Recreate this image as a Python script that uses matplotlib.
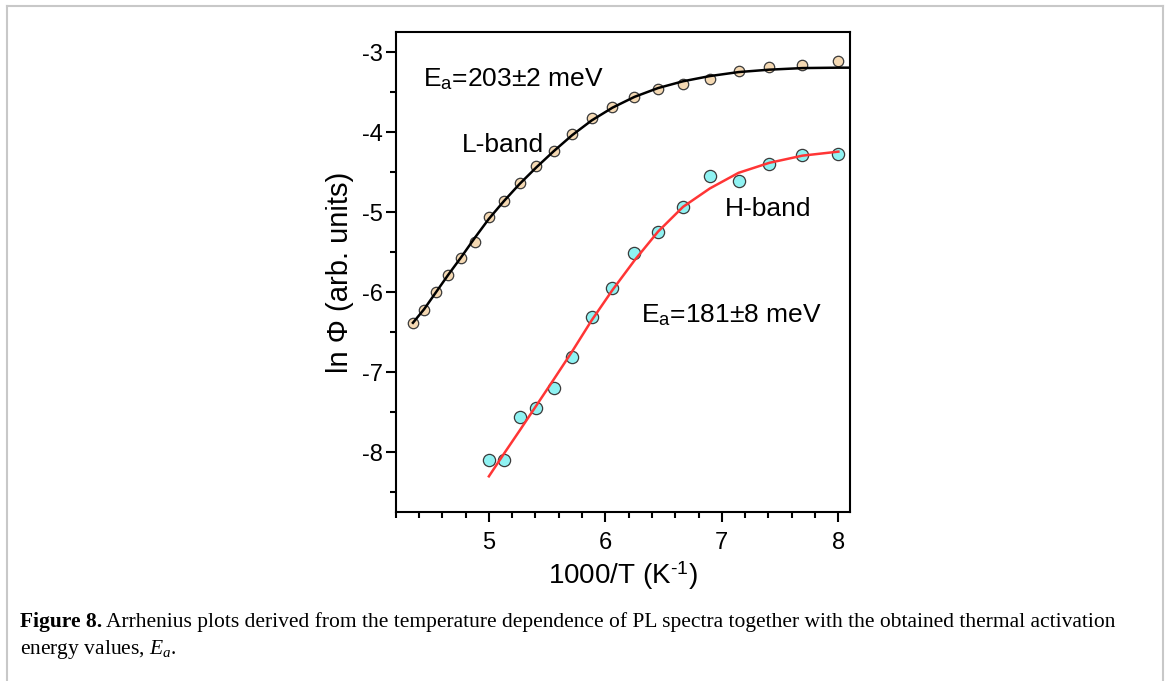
import matplotlib
matplotlib.use('Agg')
import matplotlib.pyplot as plt
from matplotlib.lines import Line2D
from matplotlib.ticker import MultipleLocator

# 1000/T values (K^-1)
x_l = [4.348, 4.444, 4.545, 4.651, 4.762, 4.878, 5.0, 5.128, 5.263, 5.405, 5.556,
       5.714, 5.882, 6.061, 6.25, 6.452, 6.667, 6.897, 7.143, 7.407, 7.692, 8.0]
y_l = [-6.38, -6.22, -6.0, -5.78, -5.57, -5.37, -5.06, -4.86, -4.63, -4.425, -4.23,
       -4.025, -3.825, -3.68, -3.56, -3.46, -3.40, -3.33, -3.23, -3.18, -3.155, -3.11]

x_h = [5.0, 5.128, 5.263, 5.405, 5.556, 5.714, 5.882, 6.061, 6.25, 6.452, 6.667,
       6.897, 7.143, 7.407, 7.692, 8.0]
y_h = [-8.09, -8.10, -7.555, -7.44, -7.20, -6.805, -6.31, -5.945, -5.505, -5.25, -4.93,
       -4.545, -4.61, -4.39, -4.28, -4.265]

# fit curves
fit_lx = x_l + [8.1]
fit_ly = [-6.38, -6.21, -6.0, -5.78, -5.56, -5.32, -5.08, -4.86, -4.645, -4.44, -4.235,
          -4.035, -3.85, -3.69, -3.555, -3.445, -3.36, -3.295, -3.245, -3.215, -3.195,
          -3.19, -3.19]
fit_hx = x_h
fit_hy = [-8.30, -8.02, -7.73, -7.42, -7.09, -6.74, -6.35, -5.97, -5.60, -5.24, -4.93,
          -4.70, -4.505, -4.38, -4.29, -4.24]

plt.rcParams['axes.unicode_minus'] = False
plt.rcParams['font.family'] = ['Liberation Sans', 'DejaVu Sans']
plt.rcParams['mathtext.fontset'] = 'custom'
plt.rcParams['mathtext.rm'] = 'Liberation Sans'
plt.rcParams['mathtext.it'] = 'Liberation Serif:italic'

fig = plt.figure(figsize=(11.7, 6.81), dpi=100)
fig.set_facecolor('white')
ax = fig.add_axes([0.3382, 0.2477, 0.3883, 0.7046])

ax.plot(x_l, y_l, 'o', ms=7.5, mfc='#f5d9b3', mec='#3a3a3a', mew=0.9, zorder=2)
ax.plot(fit_lx, fit_ly, '-', color='black', lw=1.8, zorder=3)
ax.plot(x_h, y_h, 'o', ms=8.8, mfc='#8ff2f2', mec='#3a3a3a', mew=0.9, zorder=2)
ax.plot(fit_hx, fit_hy, '-', color='#ff3535', lw=1.8, zorder=3)

ax.set_xlim(4.2, 8.1)
ax.set_ylim(-8.75, -2.75)
ax.xaxis.set_major_locator(MultipleLocator(1))
ax.xaxis.set_minor_locator(MultipleLocator(0.2))
ax.yaxis.set_major_locator(MultipleLocator(1))
ax.yaxis.set_minor_locator(MultipleLocator(0.5))
for s in ax.spines.values():
    s.set_linewidth(1.5)
ax.tick_params(which='major', length=7, width=1.5, labelsize=17)
ax.tick_params(which='minor', length=4.5, width=1.5)
ax.tick_params(axis='x', which='major', pad=7)
ax.tick_params(axis='y', which='major', pad=2)

ax.set_xlabel('1000/T (K$^{\\text{-}\\mathregular{1}}$)', fontsize=20, labelpad=4)
ax.set_ylabel('ln \u03a6 (arb. units)', fontsize=21, labelpad=6)

ax.text(4.432, -3.42, 'E$_{\\mathregular{a}}$=203\u00b12 meV', fontsize=19, va='baseline')
ax.text(4.765, -4.24, 'L-band', fontsize=19, va='baseline')
ax.text(7.03, -5.046, 'H-band', fontsize=19, va='baseline')
ax.text(6.305, -6.37, 'E$_{\\mathregular{a}}$=181\u00b18 meV', fontsize=19, va='baseline')

# page frame
W, H = 1170, 681
c = '#c8c8c8'
fig.add_artist(Line2D([7 / W, 7 / W], [0, 1 - 5.5 / H], transform=fig.transFigure, color=c, lw=1.5))
fig.add_artist(Line2D([7 / W, 1163 / W], [1 - 5.5 / H, 1 - 5.5 / H], transform=fig.transFigure, color=c, lw=1.5))
fig.add_artist(Line2D([1163 / W, 1163 / W], [0, 1 - 5.5 / H], transform=fig.transFigure, color=c, lw=1.5))

# caption
cap_fs = 15.5
t1 = fig.text(20 / W, 1 - 627 / H, 'Figure 8.', fontsize=cap_fs, fontweight='bold',
              family='Liberation Serif', va='baseline')
fig.canvas.draw()
bb = t1.get_window_extent()
fig.text((bb.x1 + 4) / W, 1 - 627 / H,
         'Arrhenius plots derived from the temperature dependence of PL spectra together '
         'with the obtained thermal activation',
         fontsize=cap_fs, family='Liberation Serif', va='baseline')
fig.text(20 / W, 1 - 654 / H, 'energy values, $E_a$.', fontsize=cap_fs,
         family='Liberation Serif', va='baseline')

plt.savefig('out.png', dpi=100)
plt.close()
